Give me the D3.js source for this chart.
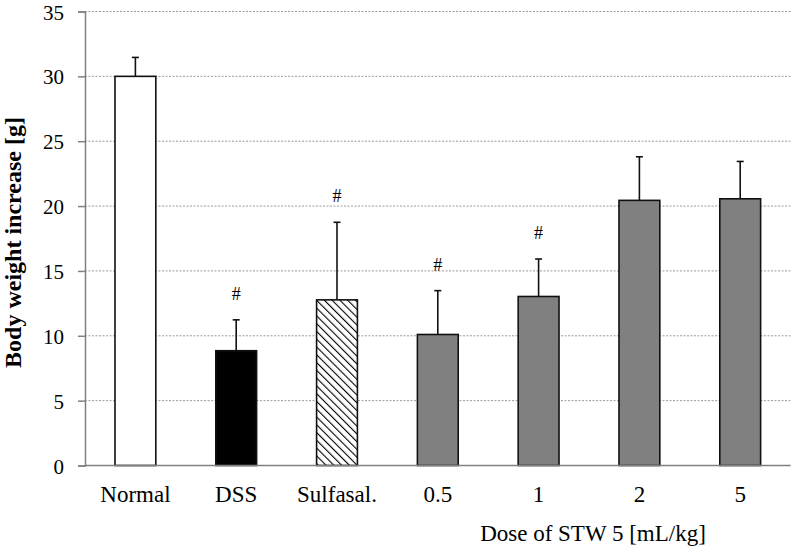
<!DOCTYPE html>
<html>
<head>
<meta charset="utf-8">
<script src="https://cdn.jsdelivr.net/npm/d3@7"></script>
<style>
  html, body { margin: 0; padding: 0; background: #fff; }
  svg { display: block; }
</style>
</head>
<body>
<svg id="chart" width="793" height="554"></svg>
<script>
// ---- data ----
const categories = ["Normal", "DSS", "Sulfasal.", "0.5", "1", "2", "5"];
const means = [30.0, 8.85, 12.77, 10.1, 13.03, 20.44, 20.56];
const errors = [1.46, 2.38, 5.98, 3.38, 2.89, 3.36, 2.88];
const significant = [false, true, true, true, true, false, false];
const fills = ["white", "black", "hatch", "gray", "gray", "gray", "gray"];
const yTicks = [0, 5, 10, 15, 20, 25, 30, 35];
const yTitle = "Body weight increase [g]";
const groupTitle = "Dose of STW 5 [mL/kg]";
const doseGroup = ["0.5", "1", "2", "5"];

(function () {
const FONT = "'Liberation Serif', 'Times New Roman', Times, 'DejaVu Serif', serif";
// ---- layout ----
const svg = d3.select("#chart");
const mLeft = 85, mRight = 790.6, mTop = 11.5, mBottom = 465.5;

const x = d3.scaleBand().domain(categories).range([mLeft, mRight]).padding(0);
const y = d3.scaleLinear().domain([0, 35]).range([mBottom, mTop]);
const barW = x.bandwidth() * 0.405;

// hatch pattern
const defs = svg.append("defs");
const pat = defs.append("pattern")
  .attr("id", "hatch").attr("patternUnits", "userSpaceOnUse")
  .attr("width", 5.5).attr("height", 5.5)
  .attr("patternTransform", "rotate(-45)");
pat.append("rect").attr("width", 5.5).attr("height", 5.5).attr("fill", "white");
pat.append("line").attr("x1", 0).attr("y1", 0).attr("x2", 0).attr("y2", 5.5)
  .attr("stroke", "black").attr("stroke-width", 2.2);

const fillOf = f => f === "hatch" ? "url(#hatch)" : (f === "gray" ? "#808080" : f);

// gridlines
svg.append("g")
  .selectAll("line")
  .data(yTicks.filter(d => d > 0))
  .join("line")
  .attr("x1", mLeft).attr("x2", mRight)
  .attr("y1", d => y(d)).attr("y2", d => y(d))
  .attr("stroke", "#9a9a9a").attr("stroke-width", 1)
  .attr("stroke-dasharray", "2,1.5");

// y axis
const yAxis = d3.axisLeft(y).tickValues(yTicks).tickSize(7).tickPadding(14);
const gy = svg.append("g").attr("transform", `translate(${mLeft},0)`).call(yAxis);
gy.attr("font-family", null);
gy.select(".domain").attr("stroke", "#808080").attr("stroke-width", 1.5);
gy.selectAll(".tick line").attr("stroke", "#808080").attr("stroke-width", 1.5);
gy.selectAll(".tick text")
  .attr("dy", null)
  .attr("y", 7.6)
  .style("font-family", FONT)
  .style("font-size", "21px").attr("fill", "#000");

// error bars (behind bars)
const eb = svg.append("g");
categories.forEach((c, i) => {
  const cx = x(c) + x.bandwidth() / 2;
  eb.append("line")
    .attr("x1", cx).attr("x2", cx)
    .attr("y1", y(means[i])).attr("y2", y(means[i] + errors[i]))
    .attr("stroke", "#111").attr("stroke-width", 1.6);
  eb.append("line")
    .attr("x1", cx - 3.5).attr("x2", cx + 3.5)
    .attr("y1", y(means[i] + errors[i])).attr("y2", y(means[i] + errors[i]))
    .attr("stroke", "#111").attr("stroke-width", 1.6);
});

// bars
svg.append("g")
  .selectAll("rect")
  .data(categories)
  .join("rect")
  .attr("x", d => x(d) + x.bandwidth() / 2 - barW / 2)
  .attr("width", barW)
  .attr("y", (d, i) => y(means[i]))
  .attr("height", (d, i) => y(0) - y(means[i]))
  .attr("fill", (d, i) => fillOf(fills[i]))
  .attr("stroke", "#111").attr("stroke-width", 1.6);

// x axis line (baseline)
svg.append("line")
  .attr("x1", mLeft).attr("x2", mRight)
  .attr("y1", y(0)).attr("y2", y(0))
  .attr("stroke", "#808080").attr("stroke-width", 1.5);

// significance markers
svg.append("g")
  .selectAll("text")
  .data(categories.filter((c, i) => significant[i]))
  .join("text")
  .attr("x", d => x(d) + x.bandwidth() / 2)
  .attr("y", d => { const i = categories.indexOf(d); return y(means[i] + errors[i]) - 20; })
  .attr("text-anchor", "middle")
  .style("font-family", FONT)
  .style("font-size", "18px")
  .text("#");

// category labels
svg.append("g")
  .selectAll("text")
  .data(categories)
  .join("text")
  .attr("x", d => x(d) + x.bandwidth() / 2)
  .attr("y", 502)
  .attr("text-anchor", "middle")
  .style("font-family", FONT)
  .style("font-size", "23px")
  .text(d => d);

// group title
const gx0 = x(doseGroup[0]) + x.bandwidth() / 2;
const gx1 = x(doseGroup[doseGroup.length - 1]) + x.bandwidth() / 2;
svg.append("text")
  .attr("x", (gx0 + gx1) / 2 + 4)
  .attr("y", 541)
  .attr("text-anchor", "middle")
  .style("font-family", FONT)
  .style("font-size", "23px")
  .text(groupTitle);

// y title
svg.append("text")
  .attr("transform", `translate(21,${(117 + 368) / 2}) rotate(-90)`)
  .attr("text-anchor", "middle")
  .style("font-family", FONT)
  .style("font-size", "24px")
  .style("font-weight", "bold")
  .text(yTitle);
})();
</script>
</body>
</html>
